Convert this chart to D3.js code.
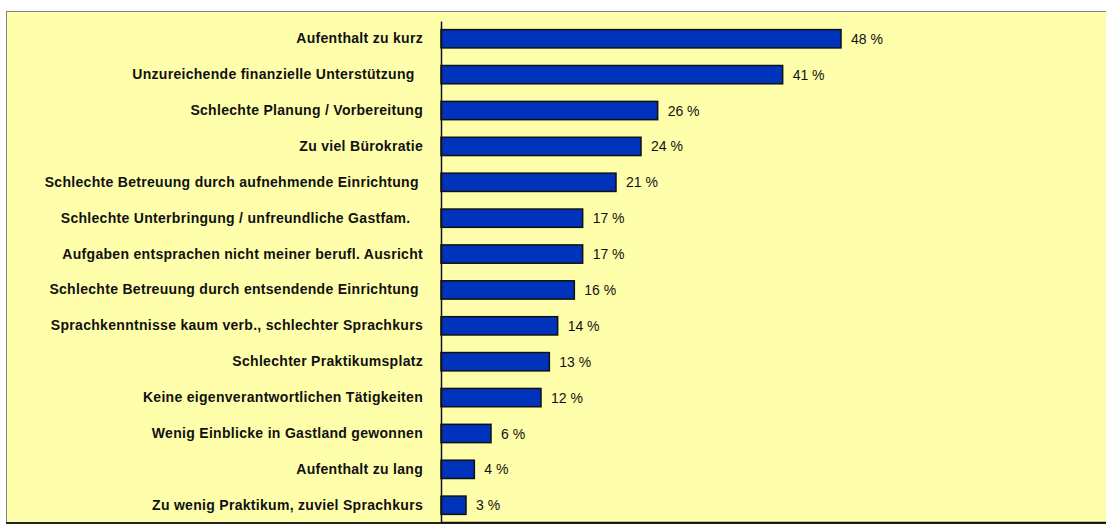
<!DOCTYPE html>
<html>
<head>
<meta charset="utf-8">
<script src="https://cdn.jsdelivr.net/npm/d3@7"></script>
<style>
  body { margin: 0; background: #fff; }
  svg text { font-family: "Liberation Sans", Arial, sans-serif; white-space: pre; }
</style>
</head>
<body>
<div id="chart"></div>
<script>
var categories = [
  "Aufenthalt zu kurz",
  "Unzureichende finanzielle Unterstützung  ",
  "Schlechte Planung / Vorbereitung",
  "Zu viel Bürokratie",
  "Schlechte Betreuung durch aufnehmende Einrichtung ",
  "Schlechte Unterbringung / unfreundliche Gastfam.   ",
  "Aufgaben entsprachen nicht meiner berufl. Ausricht",
  "Schlechte Betreuung durch entsendende Einrichtung ",
  "Sprachkenntnisse kaum verb., schlechter Sprachkurs",
  "Schlechter Praktikumsplatz",
  "Keine eigenverantwortlichen Tätigkeiten",
  "Wenig Einblicke in Gastland gewonnen",
  "Aufenthalt zu lang",
  "Zu wenig Praktikum, zuviel Sprachkurs"
];
var values = [48, 41, 26, 24, 21, 17, 17, 16, 14, 13, 12, 6, 4, 3];

var W = 1106, H = 525;
var plot = { left: 441, top: 21, bottom: 523 };

var svg = d3.select("#chart")
  .append("svg")
    .attr("width", W)
    .attr("height", H);

// yellow panel
svg.append("rect")
  .attr("x", 6.5).attr("y", 11.5)
  .attr("width", W + 10).attr("height", 511)
  .attr("fill", "#ffffab")
  .attr("stroke", "#808080")
  .attr("stroke-width", 1);
svg.append("line")
  .attr("x1", 6).attr("x2", W)
  .attr("y1", 523).attr("y2", 523)
  .attr("stroke", "#222").attr("stroke-width", 2);

var x = d3.scaleLinear()
  .domain([0, 60])
  .range([plot.left, plot.left + 500]);

var y = d3.scaleBand()
  .domain(categories)
  .range([plot.top, plot.bottom])
  .paddingInner(0.49)
  .paddingOuter(0.24);

// bars
svg.selectAll("rect.bar")
  .data(values)
  .enter()
  .append("rect")
    .attr("class", "bar")
    .attr("x", x(0))
    .attr("y", function(d, i) { return y(categories[i]); })
    .attr("width", function(d) { return x(d) - x(0); })
    .attr("height", y.bandwidth())
    .attr("fill", "#0033bb")
    .attr("stroke", "#111")
    .attr("stroke-width", 1.5);

// value labels
svg.selectAll("text.val")
  .data(values)
  .enter()
  .append("text")
    .attr("class", "val")
    .attr("x", function(d) { return x(d) + 10; })
    .attr("y", function(d, i) { return y(categories[i]) + y.bandwidth() / 2; })
    .attr("dy", "0.36em")
    .attr("font-size", 14)
    .attr("fill", "#111")
    .text(function(d) { return d + " %"; });

// y axis with category labels
var yAxis = svg.append("g")
  .attr("transform", "translate(" + plot.left + ",0)")
  .call(d3.axisLeft(y).tickSize(0).tickPadding(18));
yAxis.select(".domain").attr("stroke", "#111").attr("stroke-width", 1.5);
yAxis.selectAll("text")
  .attr("font-size", 14)
  .attr("font-weight", "bold")
  .attr("letter-spacing", 0.3)
  .attr("font-family", "Liberation Sans, Arial, sans-serif")
  .attr("fill", "#111");

// bottom axis line
svg.append("line")
  .attr("x1", plot.left).attr("x2", W)
  .attr("y1", plot.bottom - 0.5).attr("y2", plot.bottom - 0.5)
  .attr("stroke", "#111").attr("stroke-width", 1.5);
</script>
</body>
</html>
